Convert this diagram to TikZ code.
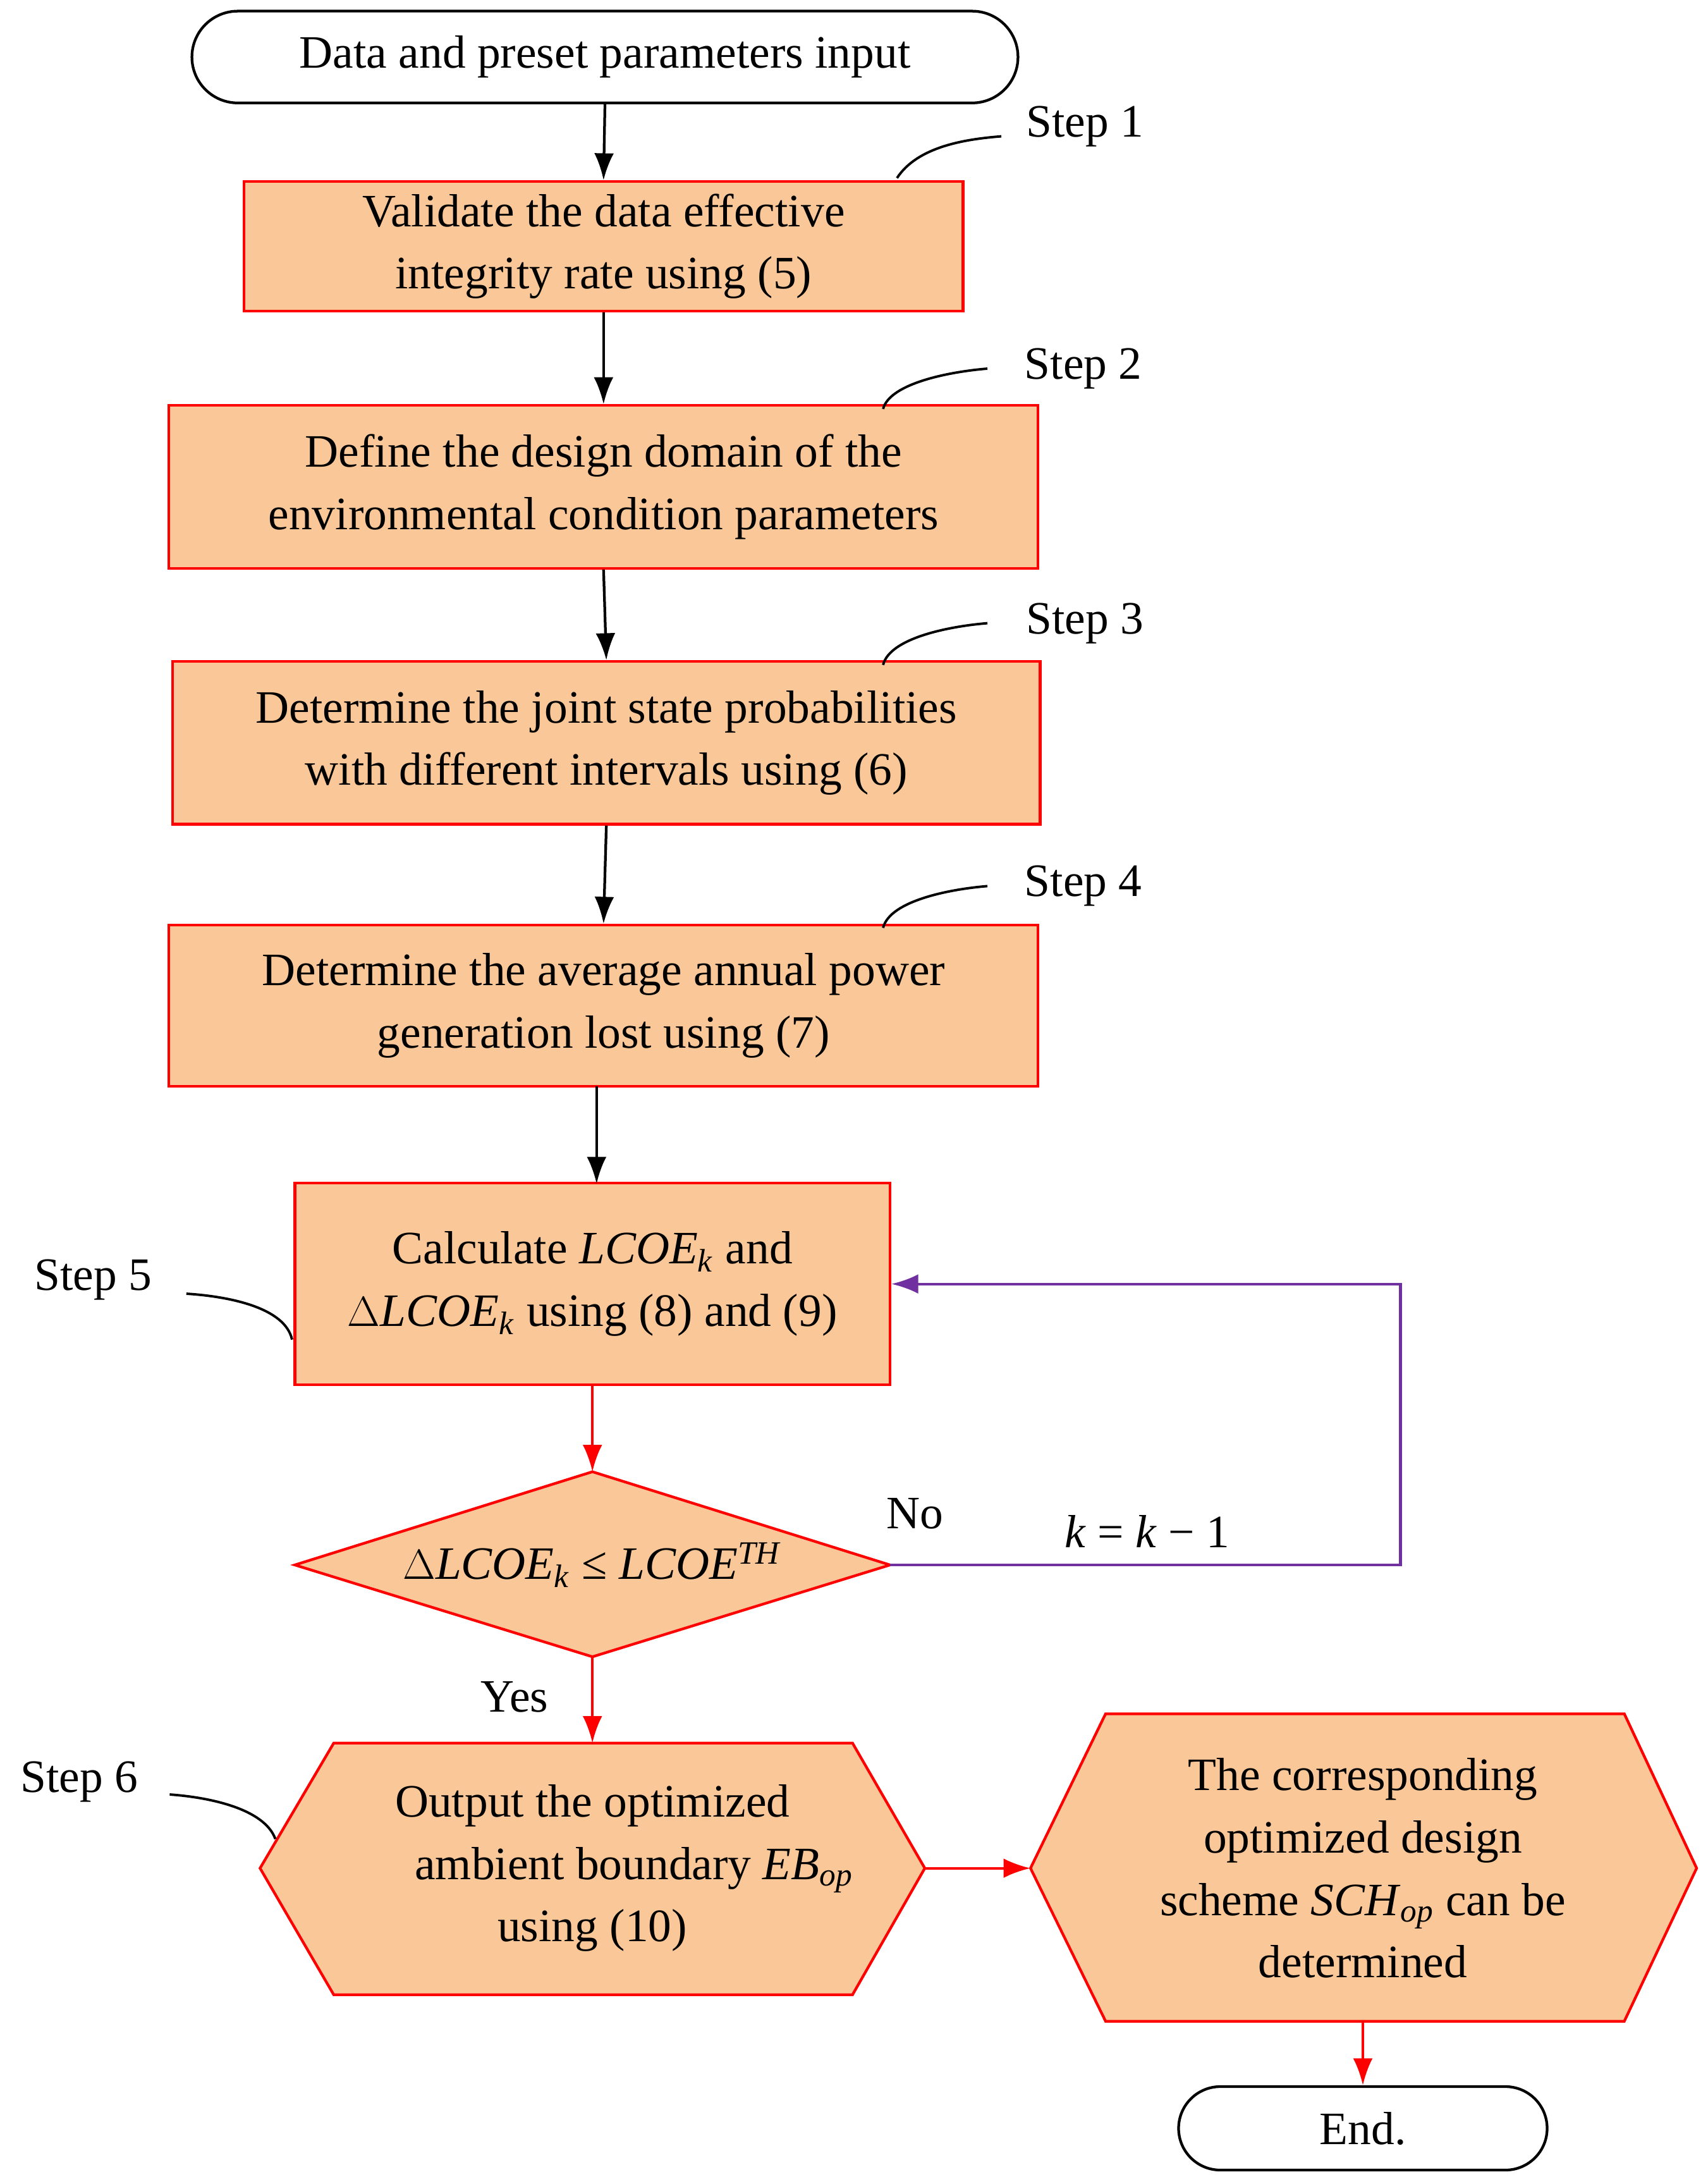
\documentclass[tikz,border=0pt]{standalone}
\usepackage{fontspec}
\setmainfont{Liberation Serif}
\usetikzlibrary{arrows.meta,shapes.misc}
\definecolor{fillc}{RGB}{250,200,152}
\definecolor{purp}{RGB}{112,48,160}
\begin{document}
\begin{tikzpicture}[x=0.02cm,y=-0.02cm,
  every node/.style={font=\fontsize{19}{25.5}\selectfont, align=center, inner sep=0pt},
  box/.style={draw=red, fill=fillc, line width=1.1pt},
  term/.style={draw=black, rounded rectangle, line width=1.1pt, fill=white},
  arr/.style={-{Latex[length=11pt,width=8pt]}, line width=1.1pt},
  rarr/.style={arr, draw=red, color=red},
  lbl/.style={line width=1pt}]
\useasboundingbox (0,0) rectangle (1228,1565);
\node[term, minimum width=594*0.02cm, minimum height=66*0.02cm] (start) at (435,41) {Data and preset parameters input};
\node[box, minimum width=517*0.02cm, minimum height=93*0.02cm] (b1) at (434,177) {Validate the data effective\\integrity rate using (5)};
\node[box, minimum width=625*0.02cm, minimum height=117*0.02cm] (b2) at (434,350) {Define the design domain of the\\environmental condition parameters};
\node[box, minimum width=624*0.02cm, minimum height=117*0.02cm] (b3) at (436,534) {Determine the joint state probabilities\\with different intervals using (6)};
\node[box, minimum width=625*0.02cm, minimum height=116*0.02cm] (b4) at (434,723) {Determine the average annual power\\generation lost using (7)};
\node[box, minimum width=428*0.02cm, minimum height=145*0.02cm] (b5) at (426,923) {Calculate \textit{LCOE}\textsubscript{\textit{k}} and\\$\Delta$\textit{LCOE}\textsubscript{\textit{k}} using (8) and (9)};
% diamond
\draw[box] (212,1125) -- (426,1058) -- (640,1125) -- (426,1191) -- cycle;
\node (dia) at (426,1125) {$\Delta$\textit{LCOE}\textsubscript{\textit{k}} ≤ \textit{LCOE}\textsuperscript{\textit{TH}}};
\coordinate (diaN) at (426,1058); \coordinate (diaS) at (426,1191); \coordinate (diaE) at (640,1125);
% hexagons
\draw[box] (187,1343) -- (240,1253) -- (613,1253) -- (665,1343) -- (613,1434) -- (240,1434) -- cycle;
\node (h6) at (426,1343) {Output the optimized\\\hspace*{1.2cm}ambient boundary \textit{EB}\textsubscript{\textit{op}}\\using (10)};
\coordinate (h6N) at (426,1253); \coordinate (h6E) at (665,1343);
\draw[box] (741,1343) -- (795,1232) -- (1168,1232) -- (1220,1343) -- (1168,1453) -- (795,1453) -- cycle;
\node (h7) at (980,1343) {The corresponding\\optimized design\\scheme \textit{SCH}\textsubscript{\textit{op}} can be\\determined};
\coordinate (h7W) at (741,1343); \coordinate (h7S) at (980,1453);
\node[term, minimum width=265*0.02cm, minimum height=60*0.02cm] (end) at (980,1530) {End.};
% arrows
\draw[arr] (start.south) -- (b1.north);
\draw[arr] (b1.south) -- (b2.north);
\draw[arr] (b2.south) -- (b3.north);
\draw[arr] (b3.south) -- (b4.north);
\draw[arr] (429,781) -- (429,851);
\draw[rarr] (b5.south) -- (diaN);
\draw[rarr] (diaS) -- (h6N);
\draw[rarr] (h6E) -- (h7W);
\draw[rarr] (h7S) -- (end.north);
\draw[arr, draw=purp, color=purp] (diaE) -- (1007,1125) -- (1007,923) -- (b5.east);
\node at (658,1088) {No};
\node at (825,1101) {\textit{k} = \textit{k} − 1};
\node at (370,1220) {Yes};
% step labels
\node (s1) at (780,91) {Step 1};
\draw[lbl] (645,128) .. controls (660,105) and (695,100) .. (720,98);
\node (s2) at (779,265) {Step 2};
\draw[lbl] (635,294) .. controls (640,275) and (685,267) .. (710,265);
\node (s3) at (780,448) {Step 3};
\draw[lbl] (635,478) .. controls (640,458) and (685,450) .. (710,448);
\node (s4) at (779,637) {Step 4};
\draw[lbl] (635,667) .. controls (640,647) and (685,639) .. (710,637);
\node (s5) at (67,920) {Step 5};
\draw[lbl] (134,930) .. controls (165,932) and (205,940) .. (210,963);
\node (s6) at (57,1281) {Step 6};
\draw[lbl] (122,1290) .. controls (150,1292) and (190,1300) .. (198,1322);
\end{tikzpicture}
\end{document}
